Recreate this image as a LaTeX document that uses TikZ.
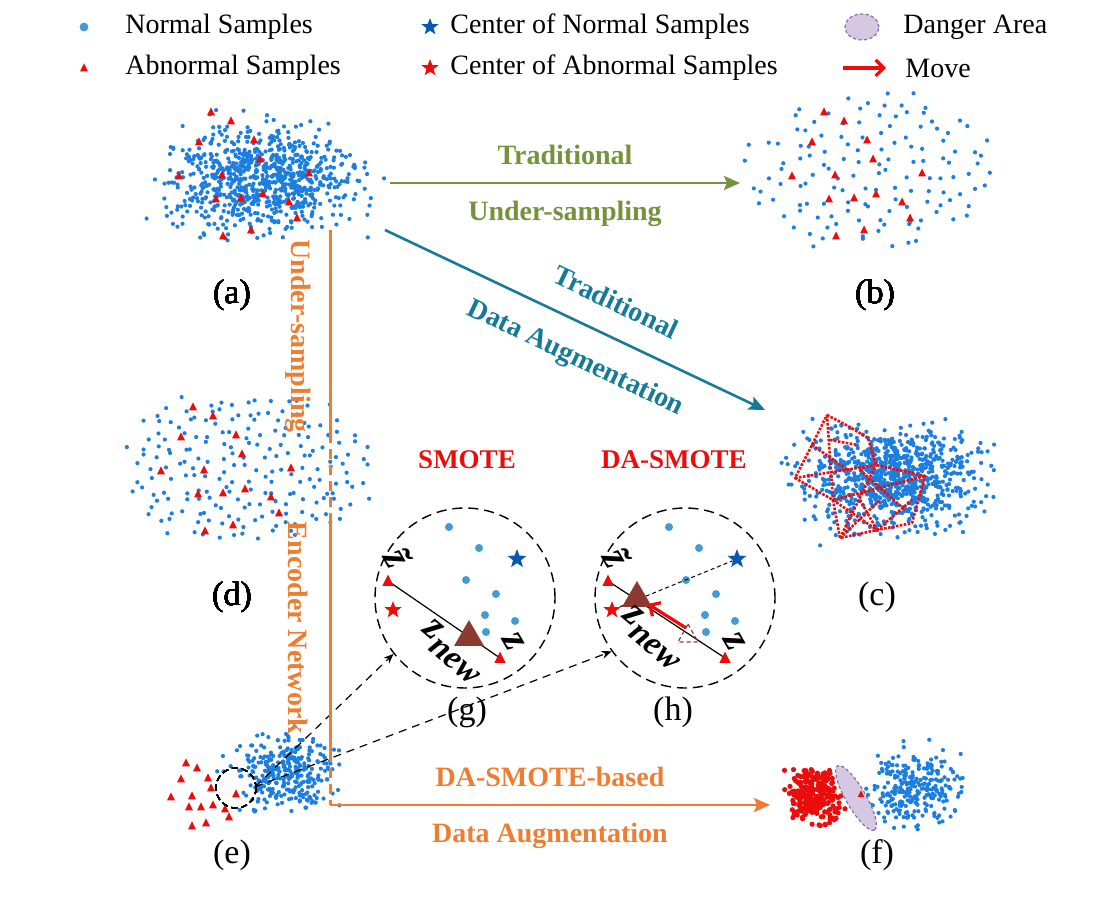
\documentclass[tikz,border=0pt]{standalone}
\usepackage{fontspec}
\setmainfont{Liberation Serif}
\usetikzlibrary{arrows.meta,positioning,shapes.geometric,calc}
\definecolor{ptblue}{RGB}{28,126,222}
\definecolor{lgblue}{RGB}{66,154,214}
\definecolor{abred}{RGB}{236,12,12}
\definecolor{cnblue}{RGB}{6,88,176}
\definecolor{brownz}{RGB}{140,58,48}
\definecolor{olivec}{RGB}{118,146,60}
\definecolor{tealc}{RGB}{22,122,152}
\definecolor{orangec}{RGB}{237,125,49}
\definecolor{dangerfill}{RGB}{214,200,226}
\definecolor{dangerline}{RGB}{135,105,165}
\tikzset{
  legtext/.style={anchor=west, inner sep=0pt, font=\fontsize{14}{16}\selectfont},
  sublabel/.style={font=\fontsize{17}{19}\selectfont},
  flowtext/.style={font=\fontsize{14}{16}\selectfont\bfseries},
  flowarrow/.style={-{Stealth[length=8pt,width=7pt,inset=1.5pt]}, line width=1.3pt},
  orangeln/.style={orangec, line width=1.5pt},
  orangedash/.style={orangeln, dash pattern=on 5pt off 3pt},
  starmark/.style={star, star points=5, star point ratio=2.4, draw=none, inner sep=0pt, minimum size=9pt},
  dangerzone/.style={ellipse, draw=dangerline, fill=dangerfill, line width=0.6pt, dash pattern=on 1.6pt off 1.2pt, inner sep=0pt},
  movearrow/.style={-{Straight Barb[length=4pt,width=8pt]}, abred, line width=1.6pt},
  zoomcircle/.style={circle, draw, line width=0.7pt, dash pattern=on 5pt off 3pt, minimum size=90pt, inner sep=0pt},
  probearrow/.style={-{Stealth[length=5pt,width=4pt]}, line width=0.6pt, dash pattern=on 4pt off 3pt},
  methodlabel/.style={abred, font=\fontsize{13.5}{15}\selectfont\bfseries},
  zlabel/.style={inner sep=0pt, font=\fontsize{20}{20}\selectfont\bfseries\itshape},
  netline/.style={abred, line width=1.3pt, dash pattern=on 1.3pt off 0.7pt, line join=round},
}
% small abnormal triangle, optional scale
\newcommand{\abtri}[2][1]{\fill[abred] #2 ++(0,-4.5*#1) -- ++(4*#1,8*#1) -- ++(-8*#1,0) -- cycle;}
\newcommand{\brtri}[1]{\fill[brownz] #1 ++(0,-15) -- ++(15,26) -- ++(-30,0) -- cycle;}
\newcommand{\ghosttri}[1]{\draw[brownz, line width=0.6pt, dash pattern=on 2pt off 1.5pt] #1 ++(0,-10) -- ++(10,18) -- ++(-20,0) -- cycle;}
\newcommand{\tripat}{-51/-68,-31/-59,-63/-38,-8/-40,-2/-21,-83/-4,-40/-5,47/-7,-46/19,-21/18,1/14,27/22,35/38,-11/50,-39/56}
\newcommand{\circdots}{449/527,479/548,466/580,496/594,485/615,515/621,486/632}
\newcommand{\znew}{z\raisebox{-0.55ex}{\fontsize{17}{17}\selectfont new}}
% sparse cloud: jittered grid inside an ellipse (cx, cy, step x, step y)
\newcommand{\sparsecloud}[4]{%
  \foreach \i in {-9,...,9}
    \foreach \j in {-6,...,6} {
      \pgfmathsetmacro\px{\i*#3+0.45*#3*rand}
      \pgfmathsetmacro\py{\j*#4+0.45*#4*rand}
      \pgfmathparse{(\px/125)^2+(\py/78)^2+0.25*rand<1 ? 1 : 0}
      \ifnum\pgfmathresult=1 \fill[ptblue] ({#1+\px},{#2+\py}) circle (1.05pt); \fi
    }}

\begin{document}
\begin{tikzpicture}[x=0.5pt, y=-0.5pt]
  \useasboundingbox (0,0) rectangle (1116,897);
  % legend
  \fill[lgblue] (84,27) circle (2.2pt);
  \node[legtext] (lgnormal) at (125,27) {Normal Samples};
  \abtri{(84,68)}
  \node[legtext] (lgabnormal) at (125,68) {Abnormal Samples};
  \node[starmark, fill=cnblue] (lgcn) at (430,27) {};
  \node[legtext] (lgcentern) at (450,27) {Center of Normal Samples};
  \node[starmark, fill=abred] (lgca) at (430,68) {};
  \node[legtext] (lgcentera) at (450,68) {Center of Abnormal Samples};
  \node[dangerzone, minimum width=17pt, minimum height=13pt] (lgdanger) at (862,27) {};
  \node[legtext] (lgdtext) at (903,27) {Danger Area};
  \coordinate (mvA) at (843,68);
  \coordinate (mvB) at (886,68);
  \draw[movearrow] (mvA) -- (mvB);
  \node[legtext] (lgmove) at (905,68) {Move};

  % (a) original data
  \pgfmathsetseed{2024}
  \foreach \k in {1,...,820}
    \fill[ptblue] ({262+44*(rand+rand+rand)},{178+25*(rand+rand+rand)}) circle (1.05pt);
  \foreach \u/\v in \tripat \abtri{({262+\u},{180+\v})}
  \node[sublabel] (la) at (232,295) {(a)};

  % (b) under-sampled
  \pgfmathsetseed{77}
  \sparsecloud{875}{174}{16}{14}
  \foreach \u/\v in \tripat \abtri{({875+\u},{180+\v})}
  \node[sublabel] (lb) at (875,295) {(b)};

  % (d) under-sampled, before encoder
  \pgfmathsetseed{91}
  \sparsecloud{247}{468}{13}{11}
  \foreach \u/\v in \tripat \abtri{({244+\u},{475+\v})}
  \node[sublabel] (ld) at (232,597) {(d)};

  % (c) traditional augmentation
  \pgfmathsetseed{313}
  \foreach \k in {1,...,900}
    \fill[ptblue] ({888+42*(rand+rand+rand)},{478+24*(rand+rand+rand)}) circle (1.05pt);
  \draw[netline] (827,415) -- (848,426) -- (868,438) -- (876,465) -- (925,476) -- (912,523)
    -- (877,530) -- (840,538) -- (833,500) -- (795,478) -- (812,445) -- cycle;
  \draw[netline] (795,478) -- (876,465) (833,500) -- (925,476) (833,500) -- (877,530)
    (840,538) -- (876,465) (877,530) -- (912,500) (827,415) -- (833,500)
    (877,530) -- (860,500) (812,445) -- (848,470) (830,440) -- (858,445)
    (840,538) -- (880,500) (860,470) -- (905,510);
  \node[sublabel] (lc) at (877,597) {(c)};

  % (e) encoded data
  \pgfmathsetseed{555}
  \foreach \k in {1,...,300}
    \fill[ptblue] ({284+23*(rand+rand+rand)},{773+18*(rand+rand+rand)}) circle (1.05pt);
  \foreach \p in {(186,763),(197,768),(181,779),(208,778),(211,788),(171,797),(192,796),
      (236,794),(189,807),(201,807),(213,805),(225,809),(229,817),(206,823),(192,826)}
    \abtri{\p}
  \draw[line width=0.6pt, dash pattern=on 3pt off 2pt] (236,788) circle (20);
  \coordinate (efoc) at (255,787);
  \node[sublabel] (le) at (232,855) {(e)};

  % (f) DA-SMOTE result
  \pgfmathsetseed{808}
  \foreach \k in {1,...,260}
    \fill[ptblue] ({912+22*(rand+rand+rand)},{788+17*(rand+rand+rand)}) circle (1.05pt);
  \foreach \k in {1,...,260}
    \fill[abred] ({815+16*(rand+rand)},{796+16*(rand+rand)}) circle (1.3pt);
  \node[dangerzone, minimum width=37pt, minimum height=10pt, rotate=-60] (fdanger) at (856,798) {};
  \abtri[0.8]{(861,794)}
  \node[sublabel] (lf) at (877,855) {(f)};

  % zoomed neighbourhoods
  \node[zoomcircle] (cg) at (465,598) {};
  \node[zoomcircle] (ch) at (685,598) {};
  \node[methodlabel] (smote) at (467,460) {SMOTE};
  \node[methodlabel] (dasmote) at (674,460) {DA-SMOTE};
  \foreach \u/\v in \circdots {
    \fill[lgblue] (\u,\v) circle (2pt);
    \fill[lgblue] ({\u+220},\v) circle (2pt);
  }
  % SMOTE
  \node[starmark, fill=cnblue, minimum size=10pt] (gcn) at (517,559) {};
  \node[starmark, fill=abred] (gca) at (393,610) {};
  \coordinate (gzt) at (388,581);
  \coordinate (gz) at (500,658);
  \draw[line width=0.6pt] (gzt) -- (gz);
  \abtri[1.4]{(gzt)}
  \abtri[1.4]{(gz)}
  \brtri{(469,635)}
  \node[zlabel, rotate=-60] (gztl) at (398,558) {\~{z}};
  \node[zlabel, rotate=-60] (gzl) at (513,642) {z};
  \node[zlabel, rotate=-40] (gznl) at (452,652) {\znew};
  % DA-SMOTE
  \node[starmark, fill=cnblue, minimum size=10pt] (hcn) at (737,559) {};
  \node[starmark, fill=abred] (hca) at (612,610) {};
  \draw[line width=0.5pt, dash pattern=on 2pt off 1.5pt] (hca) -- (hcn);
  \coordinate (hzt) at (608,581);
  \coordinate (hz) at (725,658);
  \draw[line width=0.6pt] (hzt) -- (hz);
  \abtri[1.4]{(hzt)}
  \abtri[1.4]{(hz)}
  \ghosttri{(688,634)}
  \brtri{(637,596)}
  \coordinate (hmvA) at (686,628);
  \coordinate (hmvB) at (648,604);
  \draw[movearrow] (hmvA) -- (hmvB);
  \node[zlabel, rotate=-60] (hztl) at (617,558) {\~{z}};
  \node[zlabel, rotate=-60] (hzl) at (734,642) {z};
  \node[zlabel, rotate=-40] (hznl) at (652,638) {\znew};
  \node[sublabel] (lg) at (467,712) {(g)};
  \node[sublabel] (lh) at (673,712) {(h)};
  \draw[probearrow] (efoc) -- (cg.218);
  \draw[probearrow] (efoc) -- (ch.216);

  % flows
  \coordinate (aE) at (390,183);
  \coordinate (bW) at (740,183);
  \draw[flowarrow, olivec] (aE) -- (bW)
    node[midway, above=5pt, flowtext, olivec] (tus1) {Traditional}
    node[midway, below=5pt, flowtext, olivec] (tus2) {Under-sampling};
  \coordinate (aSE) at (385,230);
  \coordinate (cNW) at (765,410);
  \draw[flowarrow, tealc] (aSE) -- (cNW)
    node[pos=0.57, sloped, above=8pt, flowtext, tealc] (tda1) {Traditional}
    node[pos=0.54, sloped, below=7pt, flowtext, tealc] (tda2) {Data Augmentation};
  \coordinate (oTop) at (330,230);
  \coordinate (oD1) at (330,433);
  \coordinate (oD2) at (330,523);
  \coordinate (oD3) at (330,752);
  \coordinate (oCorner) at (330,805);
  \coordinate (fW) at (770,805);
  \draw[orangeln] (oTop) -- (oD1);
  \draw[orangedash] (oD1) -- (oD2);
  \draw[orangeln] (oD2) -- (oD3);
  \draw[orangedash] (oD3) -- (oCorner);
  \draw[flowarrow, orangec] (oCorner) -- (fW)
    node[midway, above=5pt, flowtext, orangec] (dab1) {DA-SMOTE-based}
    node[midway, below=5pt, flowtext, orangec] (dab2) {Data Augmentation};
  \node[flowtext, orangec, rotate=-90] (usv) at (298,336) {Under-sampling};
  \node[flowtext, orangec, rotate=-90] (encv) at (298,628) {Encoder Network};
\end{tikzpicture}
\end{document}
